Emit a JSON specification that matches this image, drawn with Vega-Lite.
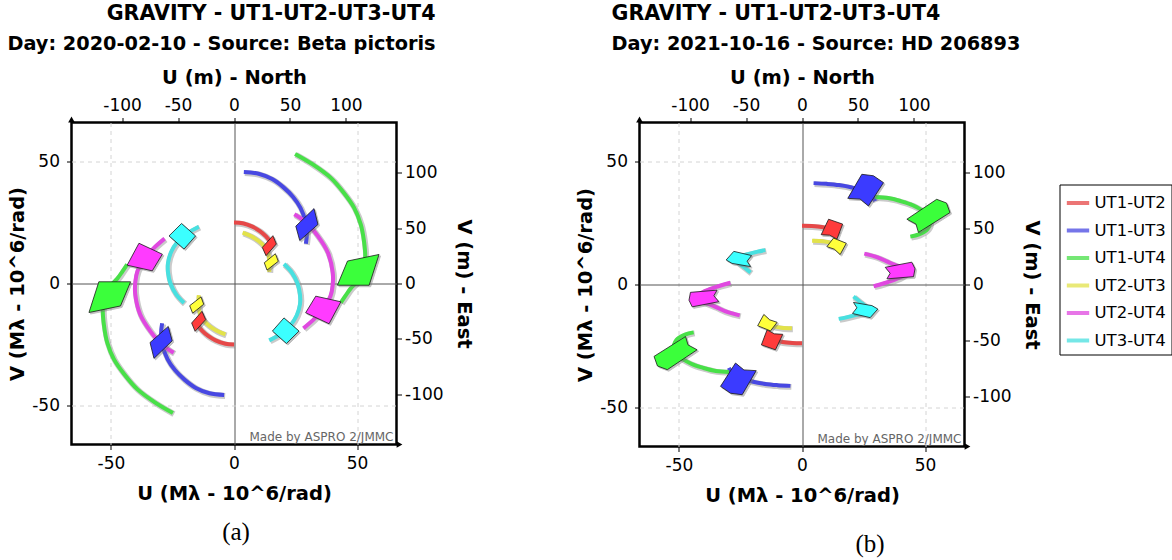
{
  "$schema": "https://vega.github.io/schema/vega-lite/v6.json",
  "background": "white",
  "padding": {"left": 5.5, "top": 1.5, "right": 0, "bottom": 0},
  "bounds": "flush",
  "spacing": 243,
  "config": {
    "view": {"stroke": "black", "strokeWidth": 2.5},
    "font": "DejaVu Sans",
    "axis": {
      "labelFont": "DejaVu Sans", "titleFont": "DejaVu Sans", "labelFontSize": 17, "titleFontSize": 19.5,
      "titleFontWeight": "bold", "labelColor": "black", "titleColor": "black", "tickColor": "black",
      "tickSize": 5, "tickWidth": 1, "domain": false, "grid": false
    },
    "title": {
      "font": "DejaVu Sans", "fontSize": 20.6, "fontWeight": "bold", "color": "black",
      "subtitleFont": "DejaVu Sans", "subtitleFontSize": 19.3, "subtitleFontWeight": "bold", "subtitleColor": "black",
      "subtitlePadding": 11, "offset": 13, "frame": "group"
    }
  },
  "datasets": {
    "notes": [{"t": "Made by ASPRO 2/JMMC"}],
    "tracks": [
      {"p":"a","b":"UT1-UT2","s":1,"i":0,"u":0,"v":25},{"p":"a","b":"UT1-UT2","s":1,"i":1,"u":3.5,"v":24.7},{"p":"a","b":"UT1-UT2","s":1,"i":2,"u":7.5,"v":23.3},{"p":"a","b":"UT1-UT2","s":1,"i":3,"u":10.5,"v":21.5},{"p":"a","b":"UT1-UT2","s":1,"i":4,"u":13,"v":19.3},{"p":"a","b":"UT1-UT2","s":1,"i":5,"u":15,"v":16.8},
      {"p":"a","b":"UT1-UT2","s":-1,"i":0,"u":0,"v":-25},{"p":"a","b":"UT1-UT2","s":-1,"i":1,"u":-3.5,"v":-24.7},{"p":"a","b":"UT1-UT2","s":-1,"i":2,"u":-7.5,"v":-23.3},{"p":"a","b":"UT1-UT2","s":-1,"i":3,"u":-10.5,"v":-21.5},{"p":"a","b":"UT1-UT2","s":-1,"i":4,"u":-13,"v":-19.3},{"p":"a","b":"UT1-UT2","s":-1,"i":5,"u":-15,"v":-16.8},
      {"p":"a","b":"UT1-UT3","s":1,"i":0,"u":4,"v":45.7},{"p":"a","b":"UT1-UT3","s":1,"i":1,"u":10,"v":45},{"p":"a","b":"UT1-UT3","s":1,"i":2,"u":15.5,"v":42.8},{"p":"a","b":"UT1-UT3","s":1,"i":3,"u":20,"v":39.5},{"p":"a","b":"UT1-UT3","s":1,"i":4,"u":24,"v":35.5},{"p":"a","b":"UT1-UT3","s":1,"i":5,"u":27,"v":31},{"p":"a","b":"UT1-UT3","s":1,"i":6,"u":29,"v":25.5},{"p":"a","b":"UT1-UT3","s":1,"i":7,"u":29.6,"v":20.5},{"p":"a","b":"UT1-UT3","s":1,"i":8,"u":29.2,"v":16.3},
      {"p":"a","b":"UT1-UT3","s":-1,"i":0,"u":-4,"v":-45.7},{"p":"a","b":"UT1-UT3","s":-1,"i":1,"u":-10,"v":-45},{"p":"a","b":"UT1-UT3","s":-1,"i":2,"u":-15.5,"v":-42.8},{"p":"a","b":"UT1-UT3","s":-1,"i":3,"u":-20,"v":-39.5},{"p":"a","b":"UT1-UT3","s":-1,"i":4,"u":-24,"v":-35.5},{"p":"a","b":"UT1-UT3","s":-1,"i":5,"u":-27,"v":-31},{"p":"a","b":"UT1-UT3","s":-1,"i":6,"u":-29,"v":-25.5},{"p":"a","b":"UT1-UT3","s":-1,"i":7,"u":-29.6,"v":-20.5},{"p":"a","b":"UT1-UT3","s":-1,"i":8,"u":-29.2,"v":-16.3},
      {"p":"a","b":"UT1-UT4","s":1,"i":0,"u":24.8,"v":53.1},{"p":"a","b":"UT1-UT4","s":1,"i":1,"u":32,"v":48.8},{"p":"a","b":"UT1-UT4","s":1,"i":2,"u":39.3,"v":43.3},{"p":"a","b":"UT1-UT4","s":1,"i":3,"u":44.5,"v":37.3},{"p":"a","b":"UT1-UT4","s":1,"i":4,"u":48.8,"v":31},{"p":"a","b":"UT1-UT4","s":1,"i":5,"u":51.5,"v":24.2},{"p":"a","b":"UT1-UT4","s":1,"i":6,"u":52.8,"v":17.3},{"p":"a","b":"UT1-UT4","s":1,"i":7,"u":53.3,"v":10.5},{"p":"a","b":"UT1-UT4","s":1,"i":8,"u":52.5,"v":5},{"p":"a","b":"UT1-UT4","s":1,"i":9,"u":50.3,"v":1},{"p":"a","b":"UT1-UT4","s":1,"i":10,"u":47.4,"v":-2},{"p":"a","b":"UT1-UT4","s":1,"i":11,"u":45.3,"v":-5},{"p":"a","b":"UT1-UT4","s":1,"i":12,"u":43.4,"v":-7.8},
      {"p":"a","b":"UT1-UT4","s":-1,"i":0,"u":-24.8,"v":-53.1},{"p":"a","b":"UT1-UT4","s":-1,"i":1,"u":-32,"v":-48.8},{"p":"a","b":"UT1-UT4","s":-1,"i":2,"u":-39.3,"v":-43.3},{"p":"a","b":"UT1-UT4","s":-1,"i":3,"u":-44.5,"v":-37.3},{"p":"a","b":"UT1-UT4","s":-1,"i":4,"u":-48.8,"v":-31},{"p":"a","b":"UT1-UT4","s":-1,"i":5,"u":-51.5,"v":-24.2},{"p":"a","b":"UT1-UT4","s":-1,"i":6,"u":-52.8,"v":-17.3},{"p":"a","b":"UT1-UT4","s":-1,"i":7,"u":-53.3,"v":-10.5},{"p":"a","b":"UT1-UT4","s":-1,"i":8,"u":-52.5,"v":-5},{"p":"a","b":"UT1-UT4","s":-1,"i":9,"u":-50.3,"v":-1},{"p":"a","b":"UT1-UT4","s":-1,"i":10,"u":-47.4,"v":2},{"p":"a","b":"UT1-UT4","s":-1,"i":11,"u":-45.3,"v":5},{"p":"a","b":"UT1-UT4","s":-1,"i":12,"u":-43.4,"v":7.8},
      {"p":"a","b":"UT2-UT3","s":1,"i":0,"u":3.5,"v":20.9},{"p":"a","b":"UT2-UT3","s":1,"i":1,"u":7,"v":19.4},{"p":"a","b":"UT2-UT3","s":1,"i":2,"u":10,"v":17.4},{"p":"a","b":"UT2-UT3","s":1,"i":3,"u":12.3,"v":15.2},{"p":"a","b":"UT2-UT3","s":1,"i":4,"u":13.8,"v":12.5},{"p":"a","b":"UT2-UT3","s":1,"i":5,"u":14.4,"v":9},{"p":"a","b":"UT2-UT3","s":1,"i":6,"u":14.3,"v":4.8},
      {"p":"a","b":"UT2-UT3","s":-1,"i":0,"u":-3.5,"v":-20.9},{"p":"a","b":"UT2-UT3","s":-1,"i":1,"u":-7,"v":-19.4},{"p":"a","b":"UT2-UT3","s":-1,"i":2,"u":-10,"v":-17.4},{"p":"a","b":"UT2-UT3","s":-1,"i":3,"u":-12.3,"v":-15.2},{"p":"a","b":"UT2-UT3","s":-1,"i":4,"u":-13.8,"v":-12.5},{"p":"a","b":"UT2-UT3","s":-1,"i":5,"u":-14.4,"v":-9},{"p":"a","b":"UT2-UT3","s":-1,"i":6,"u":-14.3,"v":-4.8},
      {"p":"a","b":"UT2-UT4","s":1,"i":0,"u":24.5,"v":28.4},{"p":"a","b":"UT2-UT4","s":1,"i":1,"u":29.3,"v":25},{"p":"a","b":"UT2-UT4","s":1,"i":2,"u":34,"v":19.5},{"p":"a","b":"UT2-UT4","s":1,"i":3,"u":38.1,"v":12.7},{"p":"a","b":"UT2-UT4","s":1,"i":4,"u":40.1,"v":4.5},{"p":"a","b":"UT2-UT4","s":1,"i":5,"u":40.1,"v":-0.5},{"p":"a","b":"UT2-UT4","s":1,"i":6,"u":39.2,"v":-5.1},{"p":"a","b":"UT2-UT4","s":1,"i":7,"u":36.5,"v":-10},{"p":"a","b":"UT2-UT4","s":1,"i":8,"u":32.6,"v":-14.5},{"p":"a","b":"UT2-UT4","s":1,"i":9,"u":28.2,"v":-18.4},
      {"p":"a","b":"UT2-UT4","s":-1,"i":0,"u":-24.5,"v":-28.4},{"p":"a","b":"UT2-UT4","s":-1,"i":1,"u":-29.3,"v":-25},{"p":"a","b":"UT2-UT4","s":-1,"i":2,"u":-34,"v":-19.5},{"p":"a","b":"UT2-UT4","s":-1,"i":3,"u":-38.1,"v":-12.7},{"p":"a","b":"UT2-UT4","s":-1,"i":4,"u":-40.1,"v":-4.5},{"p":"a","b":"UT2-UT4","s":-1,"i":5,"u":-40.1,"v":0.5},{"p":"a","b":"UT2-UT4","s":-1,"i":6,"u":-39.2,"v":5.1},{"p":"a","b":"UT2-UT4","s":-1,"i":7,"u":-36.5,"v":10},{"p":"a","b":"UT2-UT4","s":-1,"i":8,"u":-32.6,"v":14.5},{"p":"a","b":"UT2-UT4","s":-1,"i":9,"u":-28.2,"v":18.4},
      {"p":"a","b":"UT3-UT4","s":1,"i":0,"u":20.3,"v":8},{"p":"a","b":"UT3-UT4","s":1,"i":1,"u":23.5,"v":4.5},{"p":"a","b":"UT3-UT4","s":1,"i":2,"u":25.8,"v":0},{"p":"a","b":"UT3-UT4","s":1,"i":3,"u":26.8,"v":-4.5},{"p":"a","b":"UT3-UT4","s":1,"i":4,"u":26.8,"v":-8.5},{"p":"a","b":"UT3-UT4","s":1,"i":5,"u":25.5,"v":-13},{"p":"a","b":"UT3-UT4","s":1,"i":6,"u":23,"v":-17},{"p":"a","b":"UT3-UT4","s":1,"i":7,"u":19,"v":-20.6},{"p":"a","b":"UT3-UT4","s":1,"i":8,"u":14.3,"v":-23.3},
      {"p":"a","b":"UT3-UT4","s":-1,"i":0,"u":-20.3,"v":-8},{"p":"a","b":"UT3-UT4","s":-1,"i":1,"u":-23.5,"v":-4.5},{"p":"a","b":"UT3-UT4","s":-1,"i":2,"u":-25.8,"v":0},{"p":"a","b":"UT3-UT4","s":-1,"i":3,"u":-26.8,"v":4.5},{"p":"a","b":"UT3-UT4","s":-1,"i":4,"u":-26.8,"v":8.5},{"p":"a","b":"UT3-UT4","s":-1,"i":5,"u":-25.5,"v":13},{"p":"a","b":"UT3-UT4","s":-1,"i":6,"u":-23,"v":17},{"p":"a","b":"UT3-UT4","s":-1,"i":7,"u":-19,"v":20.6},{"p":"a","b":"UT3-UT4","s":-1,"i":8,"u":-14.3,"v":23.3},

      {"p":"b","b":"UT1-UT2","s":1,"i":0,"u":0,"v":23.9},{"p":"b","b":"UT1-UT2","s":1,"i":1,"u":4,"v":23.8},{"p":"b","b":"UT1-UT2","s":1,"i":2,"u":8,"v":23.4},{"p":"b","b":"UT1-UT2","s":1,"i":3,"u":11.5,"v":22.5},{"p":"b","b":"UT1-UT2","s":1,"i":4,"u":14.8,"v":20.5},
      {"p":"b","b":"UT1-UT2","s":-1,"i":0,"u":0,"v":-23.9},{"p":"b","b":"UT1-UT2","s":-1,"i":1,"u":-4,"v":-23.8},{"p":"b","b":"UT1-UT2","s":-1,"i":2,"u":-8,"v":-23.4},{"p":"b","b":"UT1-UT2","s":-1,"i":3,"u":-11.5,"v":-22.5},{"p":"b","b":"UT1-UT2","s":-1,"i":4,"u":-14.8,"v":-20.5},
      {"p":"b","b":"UT1-UT3","s":1,"i":0,"u":4.7,"v":41.3},{"p":"b","b":"UT1-UT3","s":1,"i":1,"u":10,"v":41},{"p":"b","b":"UT1-UT3","s":1,"i":2,"u":15,"v":40.5},{"p":"b","b":"UT1-UT3","s":1,"i":3,"u":20.3,"v":39.5},{"p":"b","b":"UT1-UT3","s":1,"i":4,"u":25,"v":38.1},{"p":"b","b":"UT1-UT3","s":1,"i":5,"u":28.3,"v":36.2},{"p":"b","b":"UT1-UT3","s":1,"i":6,"u":29.7,"v":34},
      {"p":"b","b":"UT1-UT3","s":-1,"i":0,"u":-4.7,"v":-41.3},{"p":"b","b":"UT1-UT3","s":-1,"i":1,"u":-10,"v":-41},{"p":"b","b":"UT1-UT3","s":-1,"i":2,"u":-15,"v":-40.5},{"p":"b","b":"UT1-UT3","s":-1,"i":3,"u":-20.3,"v":-39.5},{"p":"b","b":"UT1-UT3","s":-1,"i":4,"u":-25,"v":-38.1},{"p":"b","b":"UT1-UT3","s":-1,"i":5,"u":-28.3,"v":-36.2},{"p":"b","b":"UT1-UT3","s":-1,"i":6,"u":-29.7,"v":-34},
      {"p":"b","b":"UT1-UT4","s":1,"i":0,"u":29.7,"v":35.6},{"p":"b","b":"UT1-UT4","s":1,"i":1,"u":35,"v":35.2},{"p":"b","b":"UT1-UT4","s":1,"i":2,"u":40,"v":34},{"p":"b","b":"UT1-UT4","s":1,"i":3,"u":45,"v":32.3},{"p":"b","b":"UT1-UT4","s":1,"i":4,"u":49.5,"v":29.6},{"p":"b","b":"UT1-UT4","s":1,"i":5,"u":52,"v":26},{"p":"b","b":"UT1-UT4","s":1,"i":6,"u":51,"v":22.6},{"p":"b","b":"UT1-UT4","s":1,"i":7,"u":47.5,"v":20.4},{"p":"b","b":"UT1-UT4","s":1,"i":8,"u":44,"v":19.5},
      {"p":"b","b":"UT1-UT4","s":-1,"i":0,"u":-29.7,"v":-35.6},{"p":"b","b":"UT1-UT4","s":-1,"i":1,"u":-35,"v":-35.2},{"p":"b","b":"UT1-UT4","s":-1,"i":2,"u":-40,"v":-34},{"p":"b","b":"UT1-UT4","s":-1,"i":3,"u":-45,"v":-32.3},{"p":"b","b":"UT1-UT4","s":-1,"i":4,"u":-49.5,"v":-29.6},{"p":"b","b":"UT1-UT4","s":-1,"i":5,"u":-52,"v":-26},{"p":"b","b":"UT1-UT4","s":-1,"i":6,"u":-51,"v":-22.6},{"p":"b","b":"UT1-UT4","s":-1,"i":7,"u":-47.5,"v":-20.4},{"p":"b","b":"UT1-UT4","s":-1,"i":8,"u":-44,"v":-19.5},
      {"p":"b","b":"UT2-UT3","s":1,"i":0,"u":4.1,"v":17.8},{"p":"b","b":"UT2-UT3","s":1,"i":1,"u":8.5,"v":17.6},{"p":"b","b":"UT2-UT3","s":1,"i":2,"u":12,"v":16.9},{"p":"b","b":"UT2-UT3","s":1,"i":3,"u":14.5,"v":15.3},
      {"p":"b","b":"UT2-UT3","s":-1,"i":0,"u":-4.1,"v":-17.8},{"p":"b","b":"UT2-UT3","s":-1,"i":1,"u":-8.5,"v":-17.6},{"p":"b","b":"UT2-UT3","s":-1,"i":2,"u":-12,"v":-16.9},{"p":"b","b":"UT2-UT3","s":-1,"i":3,"u":-14.5,"v":-15.3},
      {"p":"b","b":"UT2-UT4","s":1,"i":0,"u":25.3,"v":12.6},{"p":"b","b":"UT2-UT4","s":1,"i":1,"u":30.4,"v":11.2},{"p":"b","b":"UT2-UT4","s":1,"i":2,"u":35.1,"v":9.1},{"p":"b","b":"UT2-UT4","s":1,"i":3,"u":39.5,"v":7.2},{"p":"b","b":"UT2-UT4","s":1,"i":4,"u":42.5,"v":5},{"p":"b","b":"UT2-UT4","s":1,"i":5,"u":40.5,"v":3.2},{"p":"b","b":"UT2-UT4","s":1,"i":6,"u":37.2,"v":1.8},{"p":"b","b":"UT2-UT4","s":1,"i":7,"u":33,"v":0.4},{"p":"b","b":"UT2-UT4","s":1,"i":8,"u":29.1,"v":-0.7},
      {"p":"b","b":"UT2-UT4","s":-1,"i":0,"u":-25.3,"v":-12.6},{"p":"b","b":"UT2-UT4","s":-1,"i":1,"u":-30.4,"v":-11.2},{"p":"b","b":"UT2-UT4","s":-1,"i":2,"u":-35.1,"v":-9.1},{"p":"b","b":"UT2-UT4","s":-1,"i":3,"u":-39.5,"v":-7.2},{"p":"b","b":"UT2-UT4","s":-1,"i":4,"u":-42.5,"v":-5},{"p":"b","b":"UT2-UT4","s":-1,"i":5,"u":-40.5,"v":-3.2},{"p":"b","b":"UT2-UT4","s":-1,"i":6,"u":-37.2,"v":-1.8},{"p":"b","b":"UT2-UT4","s":-1,"i":7,"u":-33,"v":-0.4},{"p":"b","b":"UT2-UT4","s":-1,"i":8,"u":-29.1,"v":0.7},
      {"p":"b","b":"UT3-UT4","s":1,"i":0,"u":20.9,"v":-4.9},{"p":"b","b":"UT3-UT4","s":1,"i":1,"u":23.5,"v":-7},{"p":"b","b":"UT3-UT4","s":1,"i":2,"u":26,"v":-9.3},{"p":"b","b":"UT3-UT4","s":1,"i":3,"u":25,"v":-11.3},{"p":"b","b":"UT3-UT4","s":1,"i":4,"u":21.6,"v":-12.5},{"p":"b","b":"UT3-UT4","s":1,"i":5,"u":18,"v":-13.4},{"p":"b","b":"UT3-UT4","s":1,"i":6,"u":14.9,"v":-14},
      {"p":"b","b":"UT3-UT4","s":-1,"i":0,"u":-20.9,"v":4.9},{"p":"b","b":"UT3-UT4","s":-1,"i":1,"u":-23.5,"v":7},{"p":"b","b":"UT3-UT4","s":-1,"i":2,"u":-26,"v":9.3},{"p":"b","b":"UT3-UT4","s":-1,"i":3,"u":-25,"v":11.3},{"p":"b","b":"UT3-UT4","s":-1,"i":4,"u":-21.6,"v":12.5},{"p":"b","b":"UT3-UT4","s":-1,"i":5,"u":-18,"v":13.4},{"p":"b","b":"UT3-UT4","s":-1,"i":6,"u":-14.9,"v":14}
    ],
    "patches": [
      {"p":"a","b":"UT1-UT2","s":1,"i":0,"u":11.5,"v":14.8},{"p":"a","b":"UT1-UT2","s":1,"i":1,"u":15.8,"v":19.6},{"p":"a","b":"UT1-UT2","s":1,"i":2,"u":17.2,"v":16.2},{"p":"a","b":"UT1-UT2","s":1,"i":3,"u":13,"v":11.4},
      {"p":"a","b":"UT1-UT2","s":-1,"i":0,"u":-11.5,"v":-14.8},{"p":"a","b":"UT1-UT2","s":-1,"i":1,"u":-15.8,"v":-19.6},{"p":"a","b":"UT1-UT2","s":-1,"i":2,"u":-17.2,"v":-16.2},{"p":"a","b":"UT1-UT2","s":-1,"i":3,"u":-13,"v":-11.4},
      {"p":"a","b":"UT2-UT3","s":1,"i":0,"u":12.3,"v":8.5},{"p":"a","b":"UT2-UT3","s":1,"i":1,"u":16.8,"v":12.2},{"p":"a","b":"UT2-UT3","s":1,"i":2,"u":18,"v":9.1},{"p":"a","b":"UT2-UT3","s":1,"i":3,"u":13.4,"v":5.5},
      {"p":"a","b":"UT2-UT3","s":-1,"i":0,"u":-12.3,"v":-8.5},{"p":"a","b":"UT2-UT3","s":-1,"i":1,"u":-16.8,"v":-12.2},{"p":"a","b":"UT2-UT3","s":-1,"i":2,"u":-18,"v":-9.1},{"p":"a","b":"UT2-UT3","s":-1,"i":3,"u":-13.4,"v":-5.5},
      {"p":"a","b":"UT1-UT3","s":1,"i":0,"u":25.1,"v":23.5},{"p":"a","b":"UT1-UT3","s":1,"i":1,"u":32.5,"v":30.7},{"p":"a","b":"UT1-UT3","s":1,"i":2,"u":34.1,"v":24.2},{"p":"a","b":"UT1-UT3","s":1,"i":3,"u":26.7,"v":17.6},
      {"p":"a","b":"UT1-UT3","s":-1,"i":0,"u":-25.1,"v":-23.5},{"p":"a","b":"UT1-UT3","s":-1,"i":1,"u":-32.5,"v":-30.7},{"p":"a","b":"UT1-UT3","s":-1,"i":2,"u":-34.1,"v":-24.2},{"p":"a","b":"UT1-UT3","s":-1,"i":3,"u":-26.7,"v":-17.6},
      {"p":"a","b":"UT1-UT4","s":1,"i":0,"u":42,"v":-0.7},{"p":"a","b":"UT1-UT4","s":1,"i":1,"u":46.1,"v":9.2},{"p":"a","b":"UT1-UT4","s":1,"i":2,"u":58.9,"v":11.9},{"p":"a","b":"UT1-UT4","s":1,"i":3,"u":54.9,"v":-0.7},
      {"p":"a","b":"UT1-UT4","s":-1,"i":0,"u":-42,"v":0.7},{"p":"a","b":"UT1-UT4","s":-1,"i":1,"u":-46.1,"v":-9.2},{"p":"a","b":"UT1-UT4","s":-1,"i":2,"u":-58.9,"v":-11.9},{"p":"a","b":"UT1-UT4","s":-1,"i":3,"u":-54.9,"v":0.7},
      {"p":"a","b":"UT2-UT4","s":1,"i":0,"u":29.1,"v":-12},{"p":"a","b":"UT2-UT4","s":1,"i":1,"u":33.2,"v":-5.2},{"p":"a","b":"UT2-UT4","s":1,"i":2,"u":43.4,"v":-7.5},{"p":"a","b":"UT2-UT4","s":1,"i":3,"u":38.6,"v":-16.5},
      {"p":"a","b":"UT2-UT4","s":-1,"i":0,"u":-29.1,"v":12},{"p":"a","b":"UT2-UT4","s":-1,"i":1,"u":-33.2,"v":5.2},{"p":"a","b":"UT2-UT4","s":-1,"i":2,"u":-43.4,"v":7.5},{"p":"a","b":"UT2-UT4","s":-1,"i":3,"u":-38.6,"v":16.5},
      {"p":"a","b":"UT3-UT4","s":1,"i":0,"u":15.6,"v":-19.5},{"p":"a","b":"UT3-UT4","s":1,"i":1,"u":20.3,"v":-14.1},{"p":"a","b":"UT3-UT4","s":1,"i":2,"u":26.4,"v":-19.5},{"p":"a","b":"UT3-UT4","s":1,"i":3,"u":21.3,"v":-24.6},
      {"p":"a","b":"UT3-UT4","s":-1,"i":0,"u":-15.6,"v":19.5},{"p":"a","b":"UT3-UT4","s":-1,"i":1,"u":-20.3,"v":14.1},{"p":"a","b":"UT3-UT4","s":-1,"i":2,"u":-26.4,"v":19.5},{"p":"a","b":"UT3-UT4","s":-1,"i":3,"u":-21.3,"v":24.6},

      {"p":"b","b":"UT1-UT2","s":1,"i":0,"u":7.8,"v":20.3},{"p":"b","b":"UT1-UT2","s":1,"i":1,"u":10.8,"v":26.6},{"p":"b","b":"UT1-UT2","s":1,"i":2,"u":16.5,"v":24.6},{"p":"b","b":"UT1-UT2","s":1,"i":3,"u":14.2,"v":18.5},{"p":"b","b":"UT1-UT2","s":1,"i":4,"u":11.2,"v":20.1},
      {"p":"b","b":"UT1-UT2","s":-1,"i":0,"u":-7.8,"v":-20.3},{"p":"b","b":"UT1-UT2","s":-1,"i":1,"u":-10.8,"v":-26.6},{"p":"b","b":"UT1-UT2","s":-1,"i":2,"u":-16.5,"v":-24.6},{"p":"b","b":"UT1-UT2","s":-1,"i":3,"u":-14.2,"v":-18.5},{"p":"b","b":"UT1-UT2","s":-1,"i":4,"u":-11.2,"v":-20.1},
      {"p":"b","b":"UT2-UT3","s":1,"i":0,"u":10.1,"v":15.4},{"p":"b","b":"UT2-UT3","s":1,"i":1,"u":12.8,"v":18.9},{"p":"b","b":"UT2-UT3","s":1,"i":2,"u":18,"v":16.8},{"p":"b","b":"UT2-UT3","s":1,"i":3,"u":15.5,"v":12.2},{"p":"b","b":"UT2-UT3","s":1,"i":4,"u":13.1,"v":14.4},
      {"p":"b","b":"UT2-UT3","s":-1,"i":0,"u":-10.1,"v":-15.4},{"p":"b","b":"UT2-UT3","s":-1,"i":1,"u":-12.8,"v":-18.9},{"p":"b","b":"UT2-UT3","s":-1,"i":2,"u":-18,"v":-16.8},{"p":"b","b":"UT2-UT3","s":-1,"i":3,"u":-15.5,"v":-12.2},{"p":"b","b":"UT2-UT3","s":-1,"i":4,"u":-13.1,"v":-14.4},
      {"p":"b","b":"UT1-UT3","s":1,"i":0,"u":24.3,"v":44.9},{"p":"b","b":"UT1-UT3","s":1,"i":1,"u":29,"v":44.3},{"p":"b","b":"UT1-UT3","s":1,"i":2,"u":33.1,"v":41.5},{"p":"b","b":"UT1-UT3","s":1,"i":3,"u":27,"v":32},{"p":"b","b":"UT1-UT3","s":1,"i":4,"u":23.6,"v":34.8},{"p":"b","b":"UT1-UT3","s":1,"i":5,"u":18.6,"v":35.1},
      {"p":"b","b":"UT1-UT3","s":-1,"i":0,"u":-24.3,"v":-44.9},{"p":"b","b":"UT1-UT3","s":-1,"i":1,"u":-29,"v":-44.3},{"p":"b","b":"UT1-UT3","s":-1,"i":2,"u":-33.1,"v":-41.5},{"p":"b","b":"UT1-UT3","s":-1,"i":3,"u":-27,"v":-32},{"p":"b","b":"UT1-UT3","s":-1,"i":4,"u":-23.6,"v":-34.8},{"p":"b","b":"UT1-UT3","s":-1,"i":5,"u":-18.6,"v":-35.1},
      {"p":"b","b":"UT1-UT4","s":1,"i":0,"u":42.6,"v":26.6},{"p":"b","b":"UT1-UT4","s":1,"i":1,"u":54.7,"v":34.7},{"p":"b","b":"UT1-UT4","s":1,"i":2,"u":58.7,"v":33.2},{"p":"b","b":"UT1-UT4","s":1,"i":3,"u":60.1,"v":29.3},{"p":"b","b":"UT1-UT4","s":1,"i":4,"u":47.3,"v":21.2},{"p":"b","b":"UT1-UT4","s":1,"i":5,"u":46.3,"v":24.6},
      {"p":"b","b":"UT1-UT4","s":-1,"i":0,"u":-42.6,"v":-26.6},{"p":"b","b":"UT1-UT4","s":-1,"i":1,"u":-54.7,"v":-34.7},{"p":"b","b":"UT1-UT4","s":-1,"i":2,"u":-58.7,"v":-33.2},{"p":"b","b":"UT1-UT4","s":-1,"i":3,"u":-60.1,"v":-29.3},{"p":"b","b":"UT1-UT4","s":-1,"i":4,"u":-47.3,"v":-21.2},{"p":"b","b":"UT1-UT4","s":-1,"i":5,"u":-46.3,"v":-24.6},
      {"p":"b","b":"UT2-UT4","s":1,"i":0,"u":33.8,"v":7},{"p":"b","b":"UT2-UT4","s":1,"i":1,"u":44.6,"v":9.1},{"p":"b","b":"UT2-UT4","s":1,"i":2,"u":45.9,"v":6.4},{"p":"b","b":"UT2-UT4","s":1,"i":3,"u":45.3,"v":3.2},{"p":"b","b":"UT2-UT4","s":1,"i":4,"u":34.5,"v":2.3},{"p":"b","b":"UT2-UT4","s":1,"i":5,"u":35.8,"v":4.6},
      {"p":"b","b":"UT2-UT4","s":-1,"i":0,"u":-33.8,"v":-7},{"p":"b","b":"UT2-UT4","s":-1,"i":1,"u":-44.6,"v":-9.1},{"p":"b","b":"UT2-UT4","s":-1,"i":2,"u":-45.9,"v":-6.4},{"p":"b","b":"UT2-UT4","s":-1,"i":3,"u":-45.3,"v":-3.2},{"p":"b","b":"UT2-UT4","s":-1,"i":4,"u":-34.5,"v":-2.3},{"p":"b","b":"UT2-UT4","s":-1,"i":5,"u":-35.8,"v":-4.6},
      {"p":"b","b":"UT3-UT4","s":1,"i":0,"u":30.8,"v":-10},{"p":"b","b":"UT3-UT4","s":1,"i":1,"u":27.7,"v":-13.5},{"p":"b","b":"UT3-UT4","s":1,"i":2,"u":20.5,"v":-11.8},{"p":"b","b":"UT3-UT4","s":1,"i":3,"u":22.3,"v":-9.5},{"p":"b","b":"UT3-UT4","s":1,"i":4,"u":20.9,"v":-7.3},{"p":"b","b":"UT3-UT4","s":1,"i":5,"u":28.4,"v":-8.6},
      {"p":"b","b":"UT3-UT4","s":-1,"i":0,"u":-30.8,"v":10},{"p":"b","b":"UT3-UT4","s":-1,"i":1,"u":-27.7,"v":13.5},{"p":"b","b":"UT3-UT4","s":-1,"i":2,"u":-20.5,"v":11.8},{"p":"b","b":"UT3-UT4","s":-1,"i":3,"u":-22.3,"v":9.5},{"p":"b","b":"UT3-UT4","s":-1,"i":4,"u":-20.9,"v":7.3},{"p":"b","b":"UT3-UT4","s":-1,"i":5,"u":-28.4,"v":8.6}
    ]
  },
  "hconcat": [
    {
      "width": 325, "height": 322,
      "title": {"text": "GRAVITY - UT1-UT2-UT3-UT4", "subtitle": "Day: 2020-02-10 - Source: Beta pictoris", "anchor": "end", "dx": 39},
      "layer": [
        {
          "data": {"name": "tracks"},
          "transform": [{"filter": "datum.p === 'a'"}],
          "mark": {"type": "line", "interpolate": "catmull-rom", "strokeWidth": 6, "color": "#8a8a8a", "opacity": 0.45, "strokeCap": "butt", "xOffset": 1, "yOffset": 1},
          "encoding": {
            "x": {"field": "u", "type": "quantitative", "scale": {"domain": [-66, 66], "nice": false, "zero": false},
              "axis": {"orient": "bottom", "title": "U (Mλ - 10^6/rad)", "values": [-50, 0, 50], "labelExpr": "'' + datum.value", "labelPadding": 6, "titlePadding": 13, "grid": true,
                "gridColor": {"condition": {"test": "datum.value === 0", "value": "#555555"}, "value": "#d4d4d4"},
                "gridDash": {"condition": {"test": "datum.value === 0", "value": [1, 0]}, "value": [4, 4]}}},
            "y": {"field": "v", "type": "quantitative", "scale": {"domain": [-66, 66], "nice": false, "zero": false},
              "axis": {"orient": "left", "title": "V (Mλ - 10^6/rad)", "values": [-50, 0, 50], "labelExpr": "'' + datum.value", "labelPadding": 7, "titlePadding": 4, "grid": true,
                "gridColor": {"condition": {"test": "datum.value === 0", "value": "#555555"}, "value": "#d4d4d4"},
                "gridDash": {"condition": {"test": "datum.value === 0", "value": [1, 0]}, "value": [4, 4]}}},
            "detail": [{"field": "b"}, {"field": "s"}],
            "order": {"field": "i", "type": "quantitative"}
          }
        },
        {
          "data": {"name": "tracks"},
          "transform": [{"filter": "datum.p === 'a'"}],
          "mark": {"type": "line", "interpolate": "catmull-rom", "strokeWidth": 4, "strokeCap": "butt"},
          "encoding": {
            "x": {"field": "u", "type": "quantitative",
              "axis": {"orient": "top", "title": "U (m) - North", "values": [-45.4545, -22.7273, 0, 22.7273, 45.4545], "labelExpr": "'' + round(datum.value * 2.2)", "labelPadding": 3, "titlePadding": 9}},
            "y": {"field": "v", "type": "quantitative",
              "axis": {"orient": "right", "title": "V (m) - East", "values": [-45.4545, -22.7273, 0, 22.7273, 45.4545], "labelExpr": "'' + round(datum.value * 2.2)", "labelPadding": 3, "titlePadding": 10}},
            "stroke": {"field": "b", "type": "nominal",
              "scale": {"domain": ["UT1-UT2", "UT1-UT3", "UT1-UT4", "UT2-UT3", "UT2-UT4", "UT3-UT4"], "range": ["#e64848", "#4848e2", "#48e048", "#e2e24a", "#e048e0", "#48e0e0"]},
              "legend": {"orient": "none", "legendX": 988, "legendY": 62, "title": null, "symbolType": "stroke", "symbolSize": 500, "symbolStrokeWidth": 4, "symbolOpacity": 0.75,
                "labelFont": "DejaVu Sans", "labelFontSize": 16.5, "labelColor": "black", "labelOffset": 3, "rowPadding": 5.5, "padding": 5, "strokeColor": "black"}},
            "detail": {"field": "s"},
            "order": {"field": "i", "type": "quantitative"}
          }
        },
        {
          "data": {"name": "patches"},
          "transform": [{"filter": "datum.p === 'a'"}],
          "mark": {"type": "line", "interpolate": "linear-closed", "color": "#777777", "fill": "#777777", "opacity": 0.45, "strokeWidth": 1, "xOffset": 1.5, "yOffset": 1.5},
          "encoding": {
            "x": {"field": "u", "type": "quantitative", "axis": null},
            "y": {"field": "v", "type": "quantitative", "axis": null},
            "detail": [{"field": "b"}, {"field": "s"}],
            "order": {"field": "i", "type": "quantitative"}
          }
        },
        {
          "data": {"name": "patches"},
          "transform": [{"filter": "datum.p === 'a'"}],
          "mark": {"type": "line", "interpolate": "linear-closed", "stroke": "#1a1a1a", "strokeWidth": 0.8},
          "encoding": {
            "x": {"field": "u", "type": "quantitative",
              "axis": {"orient": "bottom", "title": "(a)", "labels": false, "ticks": false, "titleFont": "Liberation Serif", "titleFontWeight": "normal", "titleFontSize": 25, "titleX": 164, "titleY": 95, "titleBaseline": "alphabetic"}},
            "y": {"field": "v", "type": "quantitative", "axis": null},
            "fill": {"field": "b", "type": "nominal",
              "scale": {"domain": ["UT1-UT2", "UT1-UT3", "UT1-UT4", "UT2-UT3", "UT2-UT4", "UT3-UT4"], "range": ["#ff3b3b", "#3b3bff", "#3bff3b", "#ffff3b", "#ff3bff", "#3bffff"]},
              "legend": null},
            "detail": [{"field": "b"}, {"field": "s"}],
            "order": {"field": "i", "type": "quantitative"}
          }
        },
        {
          "data": {"name": "notes"},
          "mark": {"type": "text", "align": "right", "baseline": "bottom", "dx": -3, "dy": -1, "fontSize": 12, "color": "#666666", "font": "DejaVu Sans"},
          "encoding": {
            "x": {"datum": 66, "type": "quantitative", "axis": null},
            "y": {"datum": -66, "type": "quantitative", "axis": null},
            "text": {"field": "t"}
          }
        },
        {
          "data": {"name": "notes"},
          "mark": {"type": "point", "shape": "triangle-up", "filled": true, "color": "black", "size": 45, "opacity": 1, "yOffset": -3},
          "encoding": {
            "x": {"datum": -66, "type": "quantitative", "axis": null},
            "y": {"datum": 66, "type": "quantitative", "axis": null}
          }
        },
        {
          "data": {"name": "notes"},
          "mark": {"type": "point", "shape": "triangle-right", "filled": true, "color": "black", "size": 45, "opacity": 1, "xOffset": 3},
          "encoding": {
            "x": {"datum": 66, "type": "quantitative", "axis": null},
            "y": {"datum": -66, "type": "quantitative", "axis": null}
          }
        }
      ],
      "resolve": {"axis": {"x": "independent", "y": "independent"}}
    },
    {
      "width": 325, "height": 324,
      "title": {"text": "GRAVITY - UT1-UT2-UT3-UT4", "subtitle": "Day: 2021-10-16 - Source: HD 206893", "anchor": "start", "dx": -28},
      "layer": [
        {
          "data": {"name": "tracks"},
          "transform": [{"filter": "datum.p === 'b'"}],
          "mark": {"type": "line", "interpolate": "catmull-rom", "strokeWidth": 6, "color": "#8a8a8a", "opacity": 0.45, "strokeCap": "butt", "xOffset": 1, "yOffset": 1},
          "encoding": {
            "x": {"field": "u", "type": "quantitative", "scale": {"domain": [-66, 66], "nice": false, "zero": false},
              "axis": {"orient": "bottom", "title": "U (Mλ - 10^6/rad)", "values": [-50, 0, 50], "labelExpr": "'' + datum.value", "labelPadding": 6, "titlePadding": 13, "grid": true,
                "gridColor": {"condition": {"test": "datum.value === 0", "value": "#555555"}, "value": "#d4d4d4"},
                "gridDash": {"condition": {"test": "datum.value === 0", "value": [1, 0]}, "value": [4, 4]}}},
            "y": {"field": "v", "type": "quantitative", "scale": {"domain": [-66, 66], "nice": false, "zero": false},
              "axis": {"orient": "left", "title": "V (Mλ - 10^6/rad)", "values": [-50, 0, 50], "labelExpr": "'' + datum.value", "labelPadding": 7, "titlePadding": 4, "grid": true,
                "gridColor": {"condition": {"test": "datum.value === 0", "value": "#555555"}, "value": "#d4d4d4"},
                "gridDash": {"condition": {"test": "datum.value === 0", "value": [1, 0]}, "value": [4, 4]}}},
            "detail": [{"field": "b"}, {"field": "s"}],
            "order": {"field": "i", "type": "quantitative"}
          }
        },
        {
          "data": {"name": "tracks"},
          "transform": [{"filter": "datum.p === 'b'"}],
          "mark": {"type": "line", "interpolate": "catmull-rom", "strokeWidth": 4, "strokeCap": "butt"},
          "encoding": {
            "x": {"field": "u", "type": "quantitative",
              "axis": {"orient": "top", "title": "U (m) - North", "values": [-45.4545, -22.7273, 0, 22.7273, 45.4545], "labelExpr": "'' + round(datum.value * 2.2)", "labelPadding": 3, "titlePadding": 9}},
            "y": {"field": "v", "type": "quantitative",
              "axis": {"orient": "right", "title": "V (m) - East", "values": [-45.4545, -22.7273, 0, 22.7273, 45.4545], "labelExpr": "'' + round(datum.value * 2.2)", "labelPadding": 3, "titlePadding": 10}},
            "stroke": {"field": "b", "type": "nominal",
              "scale": {"domain": ["UT1-UT2", "UT1-UT3", "UT1-UT4", "UT2-UT3", "UT2-UT4", "UT3-UT4"], "range": ["#e64848", "#4848e2", "#48e048", "#e2e24a", "#e048e0", "#48e0e0"]}},
            "detail": {"field": "s"},
            "order": {"field": "i", "type": "quantitative"}
          }
        },
        {
          "data": {"name": "patches"},
          "transform": [{"filter": "datum.p === 'b'"}],
          "mark": {"type": "line", "interpolate": "linear-closed", "color": "#777777", "fill": "#777777", "opacity": 0.45, "strokeWidth": 1, "xOffset": 1.5, "yOffset": 1.5},
          "encoding": {
            "x": {"field": "u", "type": "quantitative", "axis": null},
            "y": {"field": "v", "type": "quantitative", "axis": null},
            "detail": [{"field": "b"}, {"field": "s"}],
            "order": {"field": "i", "type": "quantitative"}
          }
        },
        {
          "data": {"name": "patches"},
          "transform": [{"filter": "datum.p === 'b'"}],
          "mark": {"type": "line", "interpolate": "linear-closed", "stroke": "#1a1a1a", "strokeWidth": 0.8},
          "encoding": {
            "x": {"field": "u", "type": "quantitative",
              "axis": {"orient": "bottom", "title": "(b)", "labels": false, "ticks": false, "titleFont": "Liberation Serif", "titleFontWeight": "normal", "titleFontSize": 25, "titleX": 230, "titleY": 105, "titleBaseline": "alphabetic"}},
            "y": {"field": "v", "type": "quantitative", "axis": null},
            "fill": {"field": "b", "type": "nominal",
              "scale": {"domain": ["UT1-UT2", "UT1-UT3", "UT1-UT4", "UT2-UT3", "UT2-UT4", "UT3-UT4"], "range": ["#ff3b3b", "#3b3bff", "#3bff3b", "#ffff3b", "#ff3bff", "#3bffff"]},
              "legend": null},
            "detail": [{"field": "b"}, {"field": "s"}],
            "order": {"field": "i", "type": "quantitative"}
          }
        },
        {
          "data": {"name": "notes"},
          "mark": {"type": "text", "align": "right", "baseline": "bottom", "dx": -3, "dy": -1, "fontSize": 12, "color": "#666666", "font": "DejaVu Sans"},
          "encoding": {
            "x": {"datum": 66, "type": "quantitative", "axis": null},
            "y": {"datum": -66, "type": "quantitative", "axis": null},
            "text": {"field": "t"}
          }
        },
        {
          "data": {"name": "notes"},
          "mark": {"type": "point", "shape": "triangle-up", "filled": true, "color": "black", "size": 45, "opacity": 1, "yOffset": -3},
          "encoding": {
            "x": {"datum": -66, "type": "quantitative", "axis": null},
            "y": {"datum": 66, "type": "quantitative", "axis": null}
          }
        },
        {
          "data": {"name": "notes"},
          "mark": {"type": "point", "shape": "triangle-right", "filled": true, "color": "black", "size": 45, "opacity": 1, "xOffset": 3},
          "encoding": {
            "x": {"datum": 66, "type": "quantitative", "axis": null},
            "y": {"datum": -66, "type": "quantitative", "axis": null}
          }
        }
      ],
      "resolve": {"axis": {"x": "independent", "y": "independent"}}
    }
  ]
}
